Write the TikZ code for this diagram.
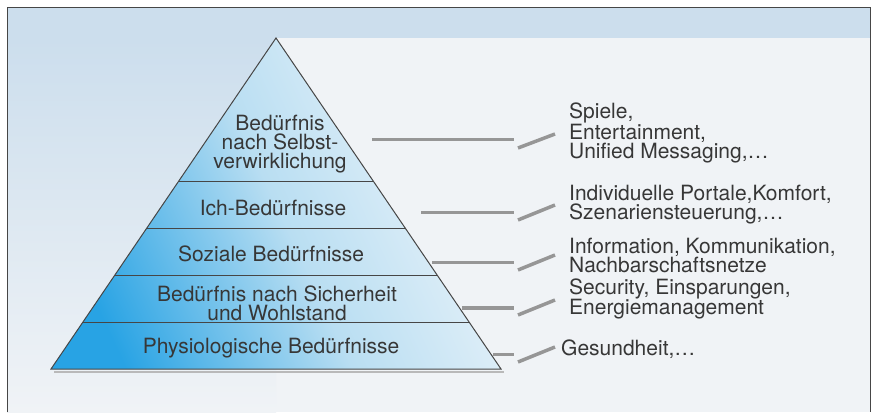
\documentclass[tikz,border=0pt]{standalone}
\usepackage{fontspec}
\setmainfont{TeX Gyre Heros}
\usetikzlibrary{calc}
\usepackage{xcolor}

\definecolor{pyrblue}{RGB}{40,163,228}
\definecolor{pyrmid}{RGB}{185,222,242}
\definecolor{pyrtop}{RGB}{238,245,250}
\definecolor{bgblue}{RGB}{204,222,237}
\definecolor{bgwhite}{RGB}{240,243,246}
\definecolor{txtgrey}{RGB}{55,55,55}
\definecolor{edgegrey}{RGB}{70,70,70}
\definecolor{linkgrey}{RGB}{150,150,150}

\begin{document}
\begin{tikzpicture}[x=1pt, y=-1pt, every node/.style={
    inner sep=0pt,
    text=txtgrey,
    font=\fontsize{21}{19}\selectfont
}, level/.style={align=center},
   need/.style={align=left, anchor=west},
   link/.style={linkgrey, line width=3pt},
   slant/.style={linkgrey, line width=3.5pt}]
    \useasboundingbox (0,0) rectangle (876,414);
    % background of the page
    \fill[white] (0,0) rectangle (876,414);
    \fill[bgwhite] (7,7) rectangle (870,412);
    \shade[top color=bgblue, bottom color=bgwhite] (7,38) rectangle (276,412);
    \fill[bgblue] (7,7) rectangle (870,38);
    \draw[edgegrey, line width=0.8pt] (7,412) -- (7,7) -- (870,7) -- (870,412);
    % the pyramid
    \coordinate (apex) at (276,38);
    \coordinate (bl) at (51,369);
    \coordinate (br) at (501,369);
    \draw[gray!55, line width=2pt] ($(bl)+(3,2.5)$) -- ($(br)+(3,2.5)$);
    \shade[left color=pyrblue, right color=pyrtop, middle color=pyrmid, shading angle=115]
        (apex) -- (br) -- (bl) -- cycle;
    \foreach \f in {0.435,0.577,0.719,0.861}
        \draw[edgegrey, line width=1pt] ($(apex)!\f!(bl)$) -- ($(apex)!\f!(br)$);
    \draw[edgegrey, line width=1pt] (apex) -- (br) -- (bl) -- cycle;
    \node (level1) [level, shift={(280,144)}]
    {
        Bedürfnis\\nach Selbst-\\verwirklichung
    };
    \node (level2) [level, shift={(276,208)}]
    {
        Ich-Bedürfnisse
    };
    \node (level3) [level, shift={(274,254)}]
    {
        Soziale Bedürfnisse
    };
    \node (level4) [level, shift={(277,303)}]
    {
        Bedürfnis nach Sicherheit\\und Wohlstand
    };
    \node (level5) [level, shift={(274,348)}]
    {
        Physiologische Bedürfnisse
    };
    % the needs on the right
    \node (need1) [need, shift={(569,133)}]
    {
        Spiele,\\Entertainment,\\Unified Messaging,\dots
    };
    \node (need2) [need, shift={(569,205)}]
    {
        Individuelle Portale,Komfort,\\Szenariensteuerung,\dots
    };
    \node (need3) [need, shift={(569,255)}]
    {
        Information, Kommunikation,\\Nachbarschaftsnetze
    };
    \node (need4) [need, shift={(569,299)}]
    {
        Security, Einsparungen,\\Energiemanagement
    };
    \node (need5) [need, shift={(561,349)}]
    {
        Gesundheit,\dots
    };
    % connectors
    \coordinate (link1a) at (372,140);
    \coordinate (link1b) at (514,140);
    \coordinate (slant1a) at (518,148);
    \coordinate (slant1b) at (555,134);
    \coordinate (link2a) at (421,213);
    \coordinate (link2b) at (514,213);
    \coordinate (slant2a) at (518,220);
    \coordinate (slant2b) at (555,205);
    \coordinate (link3a) at (432,263);
    \coordinate (link3b) at (514,263);
    \coordinate (slant3a) at (518,270);
    \coordinate (slant3b) at (555,255);
    \coordinate (link4a) at (462,308);
    \coordinate (link4b) at (514,308);
    \coordinate (slant4a) at (518,315);
    \coordinate (slant4b) at (555,300);
    \coordinate (link5a) at (493,354);
    \coordinate (link5b) at (514,354);
    \coordinate (slant5a) at (518,362);
    \coordinate (slant5b) at (555,347);
    \draw[link] (link1a) to (link1b);
    \draw[slant] (slant1a) to (slant1b);
    \draw[link] (link2a) to (link2b);
    \draw[slant] (slant2a) to (slant2b);
    \draw[link] (link3a) to (link3b);
    \draw[slant] (slant3a) to (slant3b);
    \draw[link] (link4a) to (link4b);
    \draw[slant] (slant4a) to (slant4b);
    \draw[link] (link5a) to (link5b);
    \draw[slant] (slant5a) to (slant5b);
\end{tikzpicture}
\end{document}
